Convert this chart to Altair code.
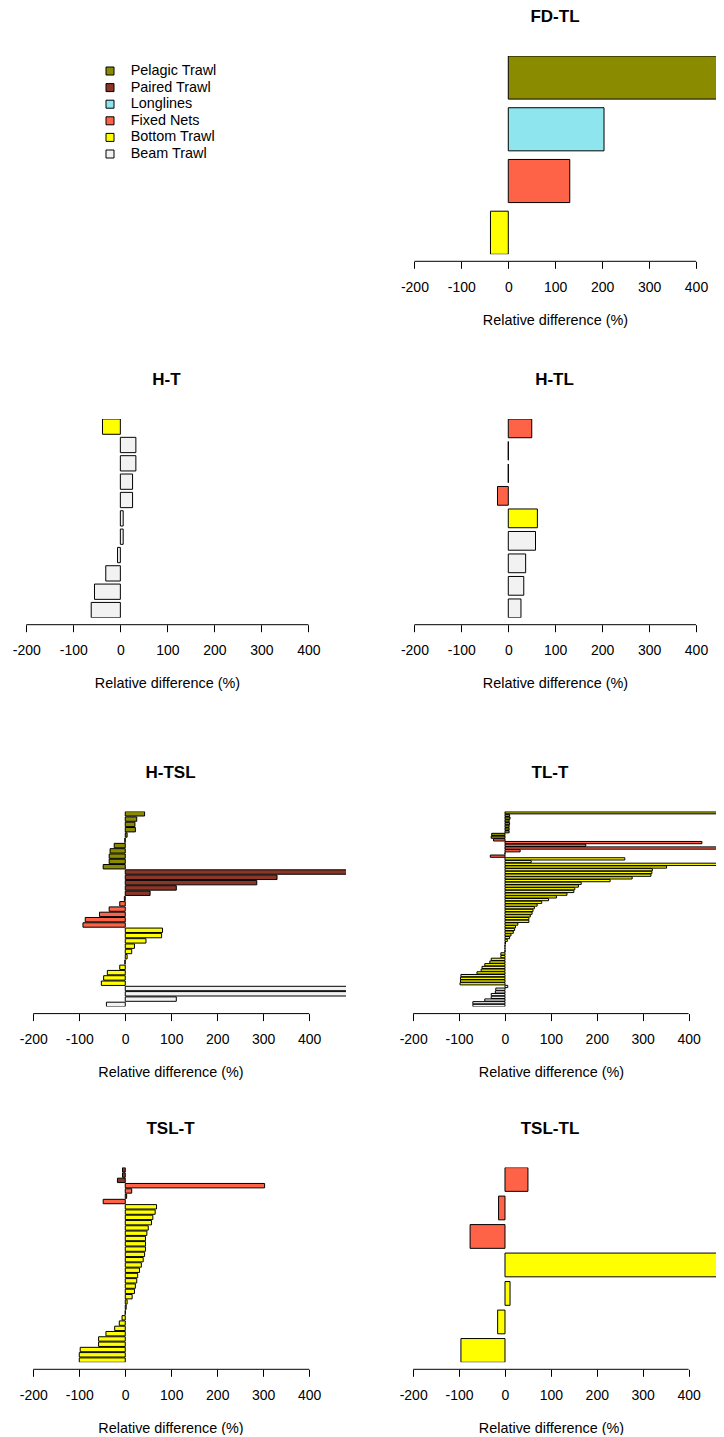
import altair as alt
import pandas as pd

FONT = "Liberation Sans"
GEARS = ["Pelagic Trawl", "Paired Trawl", "Longlines", "Fixed Nets", "Bottom Trawl", "Beam Trawl"]
COLORS = ["#8B8B00", "#8B3626", "#8EE5EE", "#FF6347", "#FFFF00", "#F2F2F2"]
AXIS_TICKS = [-200, -100, 0, 100, 200, 300, 400]
AXIS_LINE = [-200, 400]

# FD-TL
FDTL_pelagic = [620]
FDTL_longlines = [204]
FDTL_fixed = [131]
FDTL_bottom = [-38]

# H-T
HT_bottom = [-38]
HT_beam = [33, 33, 26, 26, 6, 6, -6, -31, -55, -62]

# H-TL
HTL_fixed = [50, 0, 0, -23]
HTL_bottom = [62]
HTL_beam = [58, 37, 33, 27]

# H-TSL
HTSL_pelagic = [42, 25, 21, 22, 4, -1, -24, -33, -35, -35, -48]
HTSL_paired = [560, 330, 286, 111, 54]
HTSL_fixed = [-2, -12, -35, -56, -87, -92]
HTSL_bottom = [81, 79, 45, 20, 14, 4, -1, -12, -39, -47, -52]
HTSL_beam = [560, 560, 111, -41]

# TL-T
TLT_pelagic = [560, 10, 11, 9, 10, 9, 9, 9, -29, -30]
TLT_fixed = [-25, 429, 176, 560, 33, 0, -32]
TLT_bottom = [261, 57, 560, 352, 321, 320, 318, 277, 229, 166, 160, 152, 150, 135, 112, 95, 80, 70,
              64, 61, 59, 55, 52, 52, 28, 23, 21, 18, 13, 10, 5, 1, 0, 0, 0, -9, -9, -30, -33,
              -44, -50, -52, -61, -96, -97, -97, -98]
TLT_beam = [6, -20, -21, -30, -30, -44, -70, -70]

# TSL-T
TSLT_paired = [-6, -6, -17]
TSLT_fixed = [303, 14, 3, -48]
TSLT_bottom = [68, 65, 60, 57, 50, 47, 44, 44, 44, 42, 39, 35, 31, 27, 25, 22, 20, 15, 4, 2, 0,
               -7, -13, -23, -42, -58, -58, -98, -100, -100]

# TSL-TL
TSLTL_fixed = [50, -14, -76]
TSLTL_bottom = [560, 11, -16, -96]

LEFT_W = 338
RIGHT_W = 350


def bar_panel(title, segments, domain, width, height, title_dx, axis_title_x):
    rows = []
    for gear, vals in segments:
        rows += [{"gear": gear, "value": v} for v in vals]
    df = pd.DataFrame(rows)
    df["idx"] = range(len(df))
    bars = alt.Chart(df).mark_bar(stroke="black", strokeWidth=1, clip=True).encode(
        y=alt.Y("idx:O", axis=None, scale=alt.Scale(paddingInner=1 / 6, paddingOuter=0)),
        x=alt.X(
            "value:Q",
            scale=alt.Scale(domain=domain, nice=False, zero=False),
            axis=alt.Axis(
                values=AXIS_TICKS, domain=False, grid=False, ticks=True, tickSize=7,
                tickColor="black", tickWidth=1, offset=7,
                labelFont=FONT, labelFontSize=14, labelColor="black", labelPadding=12,
                labelExpr="datum.value + ''", labelFlush=False, labelOverlap=False,
                title="Relative difference (%)", titleFont=FONT, titleFontSize=14.4,
                titleFontWeight="normal", titleColor="black", titlePadding=19,
                titleX=axis_title_x,
            ),
        ),
        x2=alt.datum(0),
        color=alt.Color("gear:N", scale=alt.Scale(domain=GEARS, range=COLORS), legend=None),
    )
    line = alt.Chart(pd.DataFrame({"k": [0]})).mark_rule(color="black", strokeWidth=1).encode(
        x=alt.datum(AXIS_LINE[0]), x2=alt.datum(AXIS_LINE[1]), y=alt.value(height + 7)
    )
    return alt.layer(bars, line).properties(
        width=width, height=height,
        title=alt.TitleParams(title, font=FONT, fontSize=17, fontWeight="bold", color="black",
                              offset=30, anchor="middle", dx=title_dx),
    )


def legend_panel(width, height):
    df = pd.DataFrame({"gear": GEARS, "i": list(range(len(GEARS)))})
    step = 16.6
    d0 = -15 / step
    d1 = d0 + height / step
    yenc = alt.Y("i:Q", axis=None, scale=alt.Scale(domain=[d0, d1], reverse=True, nice=False, zero=False))
    sq = alt.Chart(df).mark_square(size=64, stroke="black", strokeWidth=1, opacity=1).encode(
        x=alt.value(102), y=yenc,
        color=alt.Color("gear:N", scale=alt.Scale(domain=GEARS, range=COLORS), legend=None),
    )
    tx = alt.Chart(df).mark_text(align="left", baseline="middle", font=FONT, fontSize=14.4,
                                 color="black").encode(x=alt.value(122.7), y=yenc, text="gear:N")
    return alt.layer(sq, tx).properties(
        width=width, height=height,
        title=alt.TitleParams(" ", font=FONT, fontSize=17, fontWeight="bold", offset=30),
    )


H1, H2, H3, H4 = 198.3, 198.7, 195, 194.7
L12 = [-239, 480]
L34 = [-255, 480]
R12 = [-303.2, 442.6]
R34 = [-302.8, 459.7]

row1 = alt.hconcat(
    legend_panel(LEFT_W, H1),
    bar_panel("FD-TL", [("Pelagic Trawl", FDTL_pelagic), ("Longlines", FDTL_longlines),
                        ("Fixed Nets", FDTL_fixed), ("Bottom Trawl", FDTL_bottom)],
              R12, RIGHT_W, H1, 14, 189),
    spacing=20,
)
row2 = alt.hconcat(
    bar_panel("H-T", [("Bottom Trawl", HT_bottom), ("Beam Trawl", HT_beam)],
              L12, LEFT_W, H2, -10.5, 159),
    bar_panel("H-TL", [("Fixed Nets", HTL_fixed), ("Bottom Trawl", HTL_bottom), ("Beam Trawl", HTL_beam)],
              R12, RIGHT_W, H2, 13.5, 189),
    spacing=20,
)
row3 = alt.hconcat(
    bar_panel("H-TSL", [("Pelagic Trawl", HTSL_pelagic), ("Paired Trawl", HTSL_paired),
                        ("Fixed Nets", HTSL_fixed), ("Bottom Trawl", HTSL_bottom), ("Beam Trawl", HTSL_beam)],
              L34, LEFT_W, H3, -6.5, 162.5),
    bar_panel("TL-T", [("Pelagic Trawl", TLT_pelagic), ("Fixed Nets", TLT_fixed),
                       ("Bottom Trawl", TLT_bottom), ("Beam Trawl", TLT_beam)],
              R34, RIGHT_W, H3, 9, 185),
    spacing=20,
)
row4 = alt.hconcat(
    bar_panel("TSL-T", [("Paired Trawl", TSLT_paired), ("Fixed Nets", TSLT_fixed), ("Bottom Trawl", TSLT_bottom)],
              L34, LEFT_W, H4, -6.5, 162.5),
    bar_panel("TSL-TL", [("Fixed Nets", TSLTL_fixed), ("Bottom Trawl", TSLTL_bottom)],
              R34, RIGHT_W, H4, 9, 185),
    spacing=20,
)

chart = alt.vconcat(
    alt.vconcat(alt.vconcat(row1, row2, spacing=44), row3, spacing=72.6),
    row4, spacing=40.6,
).properties(
    padding={"left": 0, "top": 0, "right": 0, "bottom": 0}, background="white"
).configure_view(stroke=None)

chart.save("out.html", embed_options={"renderer": "svg", "actions": False})
